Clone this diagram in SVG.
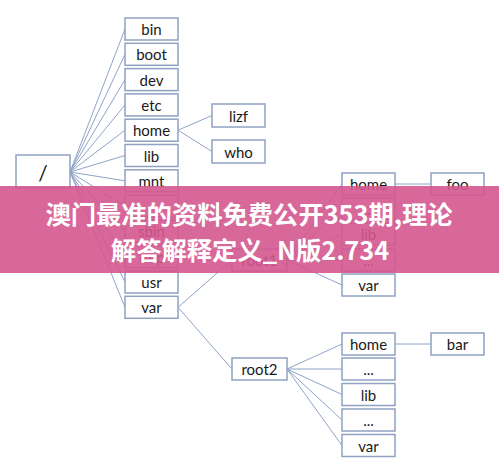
<svg xmlns="http://www.w3.org/2000/svg" width="499" height="463" viewBox="0 0 499 463">
<style>
.b{fill:#fff;stroke:#8fa2c2;stroke-width:1.5}
.t{font-family:Lato,"Liberation Sans",Arial,sans-serif;font-size:15px;fill:#1a1a1a;text-anchor:middle;dominant-baseline:central}
.c line{stroke:#8ea4c8;stroke-width:1}
.ban{font-family:"Noto Sans CJK SC","Noto Sans",sans-serif;font-weight:bold;font-size:25.3px;fill:#fff;text-anchor:middle}
</style>
<rect width="499" height="463" fill="#fff"/>
<g class="c" id="connectors">
<line x1="70" y1="172" x2="125" y2="29"/>
<line x1="70" y1="172" x2="125" y2="54.3"/>
<line x1="70" y1="172" x2="125" y2="79.6"/>
<line x1="70" y1="172" x2="125" y2="104.9"/>
<line x1="70" y1="172" x2="125" y2="130.2"/>
<line x1="70" y1="172" x2="125" y2="155.5"/>
<line x1="70" y1="172" x2="125" y2="180.8"/>
<line x1="70" y1="172" x2="125" y2="206.1"/>
<line x1="70" y1="172" x2="125" y2="231.4"/>
<line x1="70" y1="172" x2="125" y2="256.7"/>
<line x1="70" y1="172" x2="125" y2="282"/>
<line x1="70" y1="172" x2="125" y2="307.3"/>
<line x1="178" y1="130.2" x2="212" y2="115.5"/>
<line x1="178" y1="130.2" x2="212" y2="151.5"/>
<line x1="178" y1="307.3" x2="232" y2="260"/>
<line x1="178" y1="307.3" x2="232" y2="369"/>
<line x1="287" y1="260" x2="342" y2="184"/>
<line x1="287" y1="260" x2="342" y2="209"/>
<line x1="287" y1="260" x2="342" y2="234"/>
<line x1="287" y1="260" x2="342" y2="260"/>
<line x1="287" y1="260" x2="342" y2="285"/>
<line x1="395" y1="184" x2="431" y2="184"/>
<line x1="287" y1="369" x2="342" y2="344"/>
<line x1="287" y1="369" x2="342" y2="369"/>
<line x1="287" y1="369" x2="342" y2="394.5"/>
<line x1="287" y1="369" x2="342" y2="420"/>
<line x1="287" y1="369" x2="342" y2="445.5"/>
<line x1="395" y1="344" x2="431" y2="344"/>
</g>
<g id="n-root"><rect class="b" x="16" y="155" width="54" height="33"/><text class="t" x="43" y="172" style="font-size:21px">/</text></g>
<g id="n-bin"><rect class="b" x="125" y="18" width="53" height="22"/><text class="t" x="151.5" y="29">bin</text></g>
<g id="n-boot"><rect class="b" x="125" y="43.3" width="53" height="22"/><text class="t" x="151.5" y="54.3">boot</text></g>
<g id="n-dev"><rect class="b" x="125" y="68.6" width="53" height="22"/><text class="t" x="151.5" y="79.6">dev</text></g>
<g id="n-etc"><rect class="b" x="125" y="93.9" width="53" height="22"/><text class="t" x="151.5" y="104.9">etc</text></g>
<g id="n-home"><rect class="b" x="125" y="119.2" width="53" height="22"/><text class="t" x="151.5" y="130.2">home</text></g>
<g id="n-lib"><rect class="b" x="125" y="144.5" width="53" height="22"/><text class="t" x="151.5" y="155.5">lib</text></g>
<g id="n-mnt"><rect class="b" x="125" y="169.8" width="53" height="22"/><text class="t" x="151.5" y="180.8">mnt</text></g>
<g id="n-hidden"><rect class="b" x="125" y="195.1" width="53" height="22"/></g>
<g id="n-sbin"><rect class="b" x="125" y="220.4" width="53" height="22"/><text class="t" x="151.5" y="231.4">sbin</text></g>
<g id="n-tmp"><rect class="b" x="125" y="245.7" width="53" height="22"/><text class="t" x="151.5" y="256.7">tmp</text></g>
<g id="n-usr"><rect class="b" x="125" y="271" width="53" height="22"/><text class="t" x="151.5" y="282">usr</text></g>
<g id="n-var"><rect class="b" x="125" y="296.3" width="53" height="22"/><text class="t" x="151.5" y="307.3">var</text></g>
<g id="n-lizf"><rect class="b" x="212" y="104" width="53" height="23"/><text class="t" x="238.5" y="115.5">lizf</text></g>
<g id="n-who"><rect class="b" x="212" y="140" width="53" height="23"/><text class="t" x="238.5" y="151.5">who</text></g>
<g id="n-root1"><rect class="b" x="232" y="249" width="55" height="22"/><text class="t" x="259.5" y="260">root1</text></g>
<g id="n-r1home"><rect class="b" x="342" y="173" width="53" height="22"/><text class="t" x="368.5" y="184">home</text></g>
<g id="n-r1dots1"><rect class="b" x="342" y="198" width="53" height="22"/><text class="t" x="368.5" y="209">...</text></g>
<g id="n-r1lib"><rect class="b" x="342" y="223" width="53" height="22"/><text class="t" x="368.5" y="234">lib</text></g>
<g id="n-r1dots2"><rect class="b" x="342" y="249" width="53" height="22"/><text class="t" x="368.5" y="260">...</text></g>
<g id="n-r1var"><rect class="b" x="342" y="274" width="53" height="22"/><text class="t" x="368.5" y="285">var</text></g>
<g id="n-foo"><rect class="b" x="431" y="173" width="53" height="22"/><text class="t" x="457.5" y="184">foo</text></g>
<g id="n-root2"><rect class="b" x="232" y="358" width="55" height="22"/><text class="t" x="259.5" y="369">root2</text></g>
<g id="n-r2home"><rect class="b" x="342" y="333" width="53" height="22"/><text class="t" x="368.5" y="344">home</text></g>
<g id="n-r2dots1"><rect class="b" x="342" y="358" width="53" height="22"/><text class="t" x="368.5" y="369">...</text></g>
<g id="n-r2lib"><rect class="b" x="342" y="383.5" width="53" height="22"/><text class="t" x="368.5" y="394.5">lib</text></g>
<g id="n-r2dots2"><rect class="b" x="342" y="409" width="53" height="22"/><text class="t" x="368.5" y="420">...</text></g>
<g id="n-r2var"><rect class="b" x="342" y="434.5" width="53" height="22"/><text class="t" x="368.5" y="445.5">var</text></g>
<g id="n-bar"><rect class="b" x="431" y="333" width="53" height="22"/><text class="t" x="457.5" y="344">bar</text></g>
<g id="banner">
<rect x="0" y="186" width="499" height="87" fill="#d4578f" opacity="0.9"/>
<text class="ban" x="249" y="224">澳门最准的资料免费公开353期,理论</text>
<text class="ban" x="250" y="260">解答解释定义_N版2.734</text>
</g>
</svg>
